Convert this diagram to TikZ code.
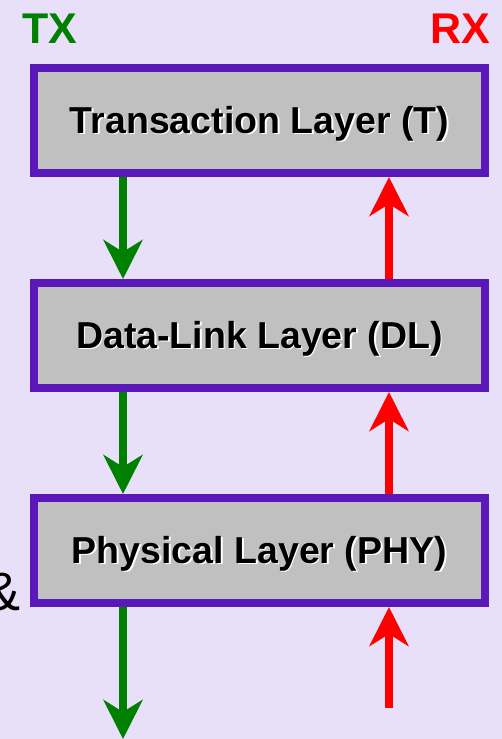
\documentclass[tikz,border=0pt]{standalone}
\usepackage{fontspec}
\setmainfont{Liberation Sans}
\usetikzlibrary{arrows.meta}
\definecolor{bgc}{RGB}{232,224,248}
\definecolor{bordc}{RGB}{90,24,184}
\definecolor{boxc}{RGB}{192,192,192}
\definecolor{txc}{RGB}{0,128,0}
\definecolor{rxc}{RGB}{255,0,0}
\newcommand{\shadowtext}[1]{\makebox[0pt][l]{\hspace{1.6pt}\raisebox{-1.6pt}{\color{white}#1}}#1}
\tikzset{
  layerbox/.style={draw=bordc, fill=boxc, line width=8pt, minimum width=451pt, minimum height=105pt,
    inner sep=0pt, text height=25.5pt, text depth=0pt, font=\fontsize{37.5}{40}\selectfont\bfseries},
  txarrow/.style={draw=txc, line width=7.5pt, -{Stealth[length=39pt,width=39pt,inset=12pt]}},
  rxarrow/.style={draw=rxc, line width=8pt, -{Stealth[length=39pt,width=39pt,inset=12pt]}},
  toplabel/.style={font=\fontsize{43}{46}\selectfont\bfseries, inner sep=0pt}
}
\begin{document}
\begin{tikzpicture}[x=1pt,y=-1pt]
\fill[bgc] (0,0) rectangle (502,739);
\useasboundingbox (0,0) rectangle (502,739);
\node[toplabel, text=txc, anchor=base west] (tx) at (22,43) {TX};
\node[toplabel, text=rxc, anchor=base east] (rx) at (490,43) {RX};
\node[layerbox] (t) at (259.5,120.5) {\shadowtext{Transaction Layer (T)}};
\node[layerbox] (dl) at (259.5,335.5) {\shadowtext{Data-Link Layer (DL)}};
\node[layerbox] (phy) at (259.5,550.5) {\shadowtext{Physical Layer (PHY)}};
\node[font=\fontsize{54}{58}\selectfont, anchor=base east, inner sep=0pt] (amp) at (21,610) {\&};
\coordinate (txend) at (123,739);
\coordinate (rxstart) at (389,708);
\draw[txarrow] (t.south -| 123,0) -- (dl.north -| 123,0);
\draw[txarrow] (dl.south -| 123,0) -- (phy.north -| 123,0);
\draw[txarrow] (phy.south -| 123,0) -- (txend);
\draw[rxarrow] (dl.north -| 389,0) -- (t.south -| 389,0);
\draw[rxarrow] (phy.north -| 389,0) -- (dl.south -| 389,0);
\draw[rxarrow] (rxstart) -- (phy.south -| 389,0);
\end{tikzpicture}
\end{document}
